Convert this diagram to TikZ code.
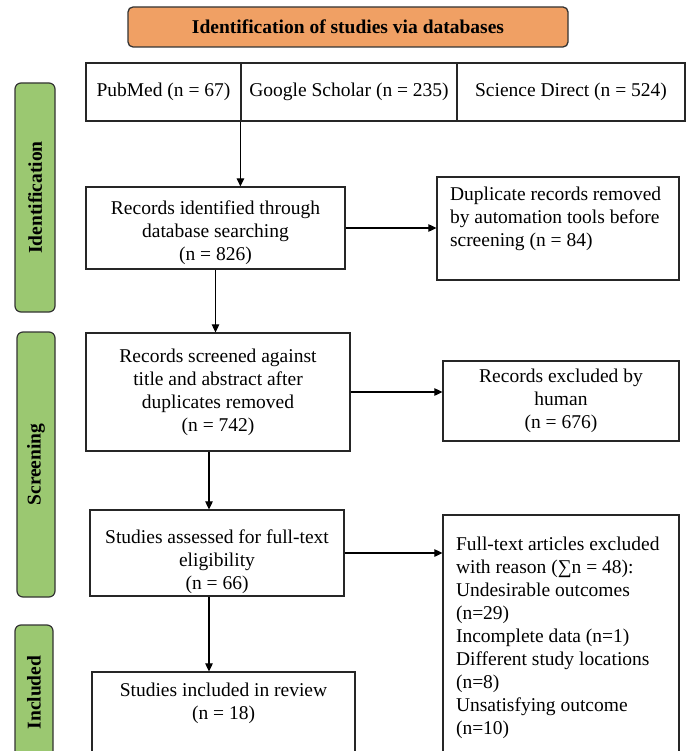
\documentclass[tikz,border=0pt]{standalone}
\usepackage{fontspec}
\setmainfont{Liberation Serif}
\usetikzlibrary{arrows.meta}

\definecolor{headorange}{RGB}{240,160,100}
\definecolor{stagegreen}{RGB}{155,200,113}

\begin{document}
\begin{tikzpicture}[x=1pt,y=-1pt,
  main/.style = {draw=black!85, line width=1.2pt, inner sep=0pt, align=center,
    font=\fontsize{19.5}{23}\selectfont},
  stage/.style = {draw=black!80, line width=1.2pt, inner sep=0pt, rounded corners=6pt,
    fill=stagegreen, rotate=90, font=\fontsize{19.5}{23}\selectfont\bfseries},
  head/.style = {draw=black!80, line width=1.3pt, inner sep=0pt, rounded corners=5pt,
    fill=headorange, font=\fontsize{19.5}{23}\selectfont\bfseries},
  arr/.style = {line width=1.1pt, -{Triangle[length=8pt,width=7.5pt]}}]
  \useasboundingbox (0,0) rectangle (686,751);

  % title and stages
  \node[head, minimum width=440, minimum height=40] (title) at (348,27) {Identification of studies via databases};
  \node[stage, minimum width=229, minimum height=40] (stageid) at (35,197.5) {Identification};
  \node[stage, minimum width=265, minimum height=38] (stagescr) at (36,464.5) {Screening};
  \node[stage, minimum width=135, minimum height=38] (stageinc) at (34,692.5) {Included};

  % databases
  \node[main, minimum width=155, minimum height=58] (pubmed) at (163.5,92) {PubMed (n = 67)};
  \node[main, minimum width=216, minimum height=58] (scholar) at (349,92) {Google Scholar (n = 235)};
  \node[main, minimum width=228, minimum height=58] (science) at (571,92) {Science Direct (n = 524)};

  % main column
  \node[main, minimum width=259, minimum height=82] (found) at (215.5,228)
    {\parbox[c][70pt][b]{250pt}{\centering Records identified through\\database searching\\(n = 826)}};
  \node[main, minimum width=264, minimum height=118] (screened) at (218,392)
    {Records screened against\\title and abstract after\\duplicates removed\\(n = 742)};
  \node[main, minimum width=254, minimum height=86] (elig) at (217,553)
    {\parbox[c][78pt][b]{250pt}{\centering Studies assessed for full-text\\eligibility\\(n = 66)}};
  \node[main, minimum width=263, minimum height=88] (review) at (223.5,716)
    {\parbox[c][67pt][t]{240pt}{\centering Studies included in review\\(n = 18)}};

  % side column
  \node[main, minimum width=242, minimum height=103] (dup) at (558,228.5)
    {\parbox[c][84pt][t]{216pt}{Duplicate records removed\\by automation tools before\\screening (n = 84)}};
  \node[main, minimum width=236, minimum height=80] (excluded) at (561,401)
    {Records excluded by\\human\\(n = 676)};
  \node[main, minimum width=236, minimum height=245] (fulltext) at (561,637.5)
    {\parbox{210pt}{Full-text articles excluded\\with reason (∑n = 48):\\Undesirable outcomes\\(n=29)\\Incomplete data (n=1)\\Different study locations\\(n=8)\\Unsatisfying outcome\\(n=10)}};

  % arrows
  \coordinate (mid) at (209,0);
  \draw[arr] (scholar.south west) -- (scholar.south west |- found.north);
  \draw[arr] (found.east) -- (found.east -| dup.west);
  \draw[arr] (found.south) -- (found.south |- screened.north);
  \draw[arr] (screened.east) -- (screened.east -| excluded.west);
  \draw[arr] (mid |- screened.south) -- (mid |- elig.north);
  \draw[arr] (elig.east) -- (elig.east -| fulltext.west);
  \draw[arr] (mid |- elig.south) -- (mid |- review.north);
\end{tikzpicture}
\end{document}
